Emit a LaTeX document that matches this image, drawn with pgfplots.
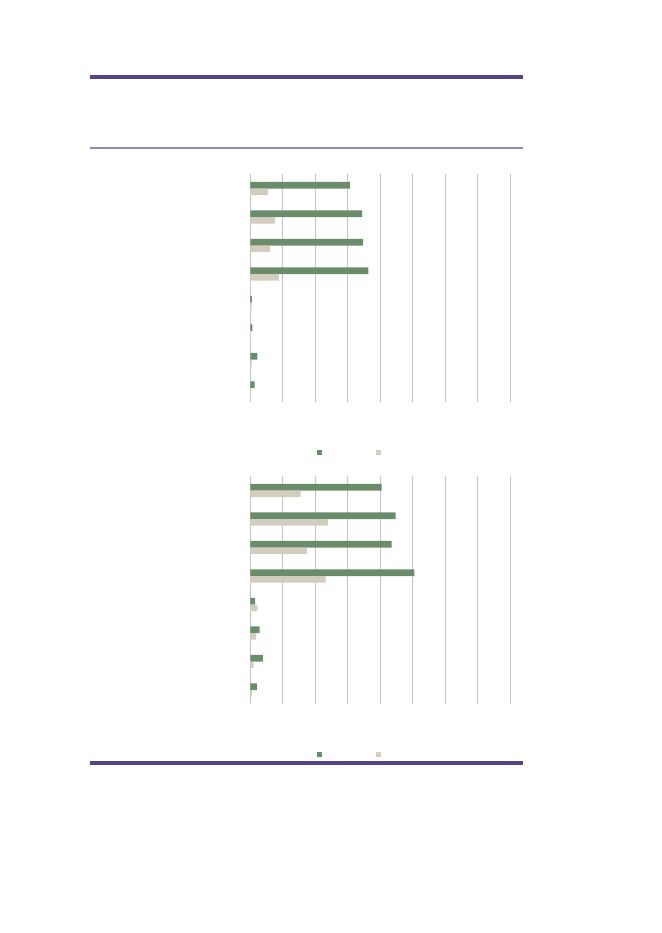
\documentclass[border=0pt]{standalone}
\usepackage{pgfplots}
\pgfplotsset{compat=1.18}
\definecolor{barGreen}{HTML}{6B8C6A}
\definecolor{barGrey}{HTML}{D2CDBC}
\definecolor{gridGrey}{HTML}{C4C4C4}
\definecolor{ruleDark}{HTML}{574384}
\definecolor{ruleLight}{HTML}{9487B8}

\pgfplotstableread{
cat green grey
1 3.07 0.54
2 3.44 0.76
3 3.47 0.61
4 3.63 0.88
5 0.05 0.04
6 0.06 0.02
7 0.22 0.04
8 0.13 0.01
}\topdata

\pgfplotstableread{
cat green grey
1 4.04 1.55
2 4.47 2.39
3 4.35 1.74
4 5.05 2.32
5 0.15 0.22
6 0.29 0.18
7 0.39 0.10
8 0.20 0.05
}\bottomdata

\pgfplotsset{
  pagebars/.style={
    scale only axis,
    width=260pt, height=228pt,
    anchor=south west,
    xbar, bar width=6.6pt,
    xmin=0, xmax=8,
    ymin=0.5, ymax=8.5, y dir=reverse,
    xtick={0,...,8}, ytick=\empty,
    xticklabels={}, 
    axis line style={draw=none},
    tick style={draw=none},
    xmajorgrids, grid style={gridGrey, line width=0.8pt},
    clip=false,
  },
}

\begin{document}
\begin{tikzpicture}[x=1pt,y=1pt]
\path (0,0) rectangle (661,-933);
% page rules
\fill[ruleDark] (90,-74.8) rectangle (523.3,-78.8);
\fill[ruleLight] (90,-147) rectangle (523.3,-148.6);
\fill[ruleDark] (90,-761) rectangle (523.3,-765);

\begin{axis}[pagebars, at={(250.3pt,-402.3pt)}]
  \addplot[fill=barGreen, draw=none, bar shift=3.3pt] table[x=green, y=cat] {\topdata};
  \addplot[fill=barGrey, draw=none, bar shift=-3.3pt] table[x=grey, y=cat] {\topdata};
\end{axis}
\fill[barGreen] (316.5,-449.5) rectangle (321.5,-454.5);
\fill[barGrey] (376,-449.5) rectangle (381,-454.5);

\begin{axis}[pagebars, at={(250.3pt,-704.3pt)}]
  \addplot[fill=barGreen, draw=none, bar shift=3.3pt] table[x=green, y=cat] {\bottomdata};
  \addplot[fill=barGrey, draw=none, bar shift=-3.3pt] table[x=grey, y=cat] {\bottomdata};
\end{axis}
\fill[barGreen] (316.5,-751.5) rectangle (321.5,-756.5);
\fill[barGrey] (376,-751.5) rectangle (381,-756.5);
\end{tikzpicture}
\end{document}
